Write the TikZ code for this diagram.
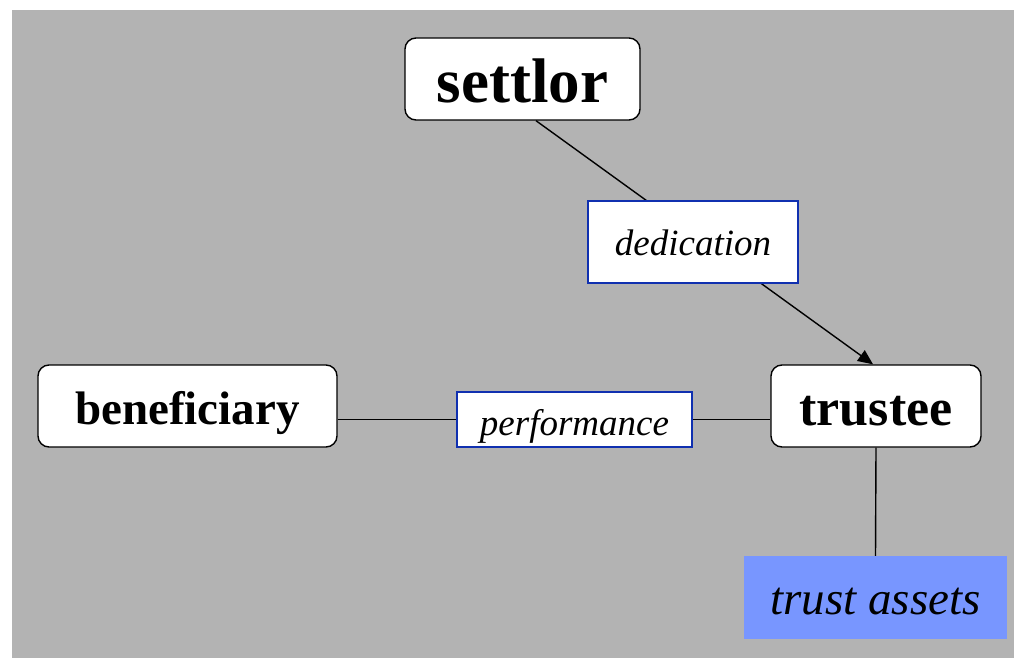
\documentclass[tikz,border=0pt]{standalone}
\usepackage{fontspec}
\setmainfont{Liberation Serif}
\usetikzlibrary{arrows.meta}
\definecolor{bggray}{RGB}{179,179,179}
\definecolor{edgeblue}{RGB}{16,48,176}
\definecolor{assetblue}{RGB}{120,150,255}
\tikzset{
  party/.style={draw=black,fill=white,line width=1.4pt,rounded corners=11pt,
    inner sep=0pt,minimum height=82pt,text depth=0pt,font=\bfseries},
  act/.style={draw=edgeblue,fill=white,line width=1.6pt,inner sep=0pt,
    text height=27.4pt,text depth=0pt,font=\itshape\fontsize{37}{40}\selectfont},
  link/.style={line width=1.4pt}
}
\begin{document}
\begin{tikzpicture}[x=1pt,y=-1pt]
\useasboundingbox (0,0) rectangle (1014,658);

% background
\fill[bggray] (12,10) rectangle (1014,658);

% parties
\node[party,minimum width=235pt,text height=46.6pt,font=\bfseries\fontsize{63}{66}\selectfont] (settlor) at (522.5,79) {settlor};
\node[party,minimum width=210pt,text height=38.5pt,font=\bfseries\fontsize{52}{56}\selectfont] (trustee) at (876,406) {trustee};
\node[party,minimum width=299pt,text height=37pt,font=\bfseries\fontsize{47}{50}\selectfont] (beneficiary) at (187.5,406) {beneficiary};
\node[fill=assetblue,inner sep=0pt,minimum width=263pt,minimum height=83pt,text height=34.8pt,text depth=0pt,
      font=\itshape\fontsize{47}{50}\selectfont] (assets) at (875.5,597.5) {trust assets};

% links
\draw[link,-{Triangle[length=15pt,width=13pt]}] ([xshift=13.5pt]settlor.south) -- ([xshift=-3pt]trustee.north);
\draw[link] (trustee.south) -- (assets.north);

% acts
\node[act,minimum width=210pt,minimum height=82pt,text height=26pt] (dedication) at (693,242) {dedication};
\node[act,minimum width=235pt,minimum height=55pt,text height=31pt] (performance) at (574.5,419.5) {performance};
\draw[link] (beneficiary.east |- performance.west) -- (performance.west)
            (performance.east) -- (trustee.west |- performance.east);
\end{tikzpicture}
\end{document}
